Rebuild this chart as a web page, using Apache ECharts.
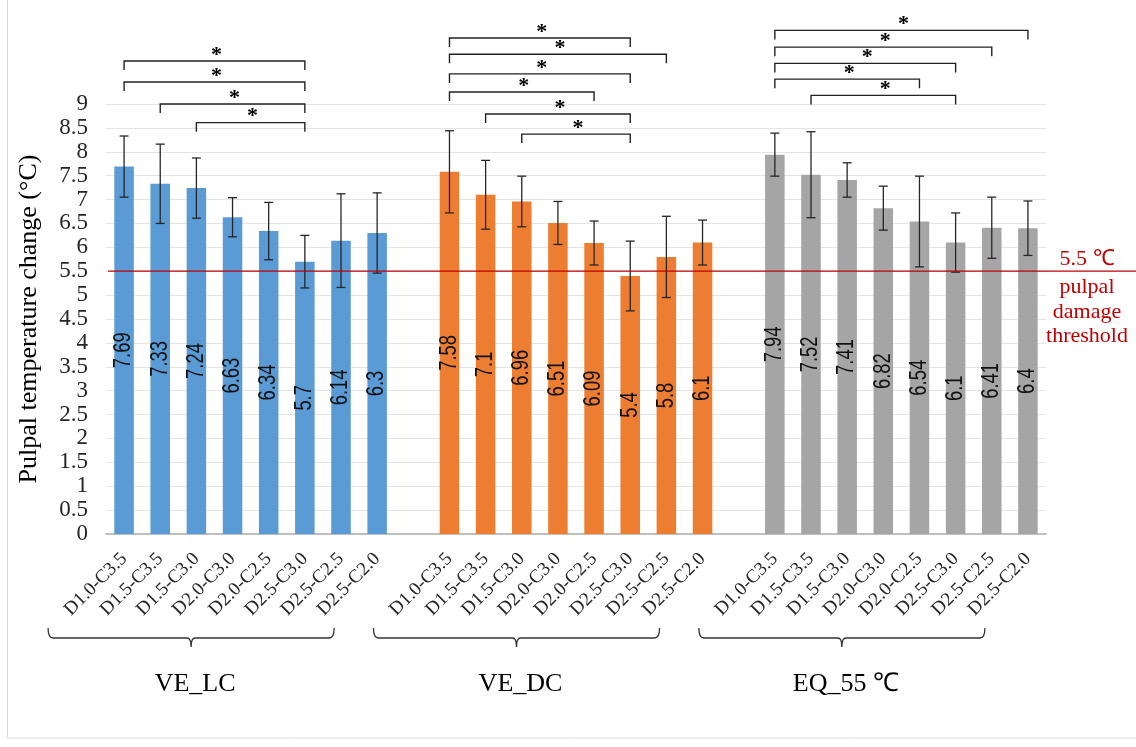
<!DOCTYPE html>
<html>
<head>
<meta charset="utf-8">
<script src="https://cdn.jsdelivr.net/npm/echarts@6/dist/echarts.min.js"></script>
<style>
  html, body { margin: 0; padding: 0; background: #fff; }
  #chart { width: 1136px; height: 747px; }
</style>
</head>
<body>
<div id="chart"></div>
<script>
// Drill / coolant conditions shown in every group
const conditions = ['D1.0-C3.5', 'D1.5-C3.5', 'D1.5-C3.0', 'D2.0-C3.0', 'D2.0-C2.5', 'D2.5-C3.0', 'D2.5-C2.5', 'D2.5-C2.0'];
const groupNames = ['VE_LC', 'VE_DC', 'EQ_55 \u2103'];

// Mean pulpal temperature change (°C) and standard deviation
const veLcMean = [7.69, 7.33, 7.24, 6.63, 6.34, 5.7, 6.14, 6.3];
const veLcSd   = [0.64, 0.83, 0.63, 0.41, 0.60, 0.55, 0.98, 0.84];
const veDcMean = [7.58, 7.1, 6.96, 6.51, 6.09, 5.4, 5.8, 6.1];
const veDcSd   = [0.86, 0.72, 0.53, 0.45, 0.46, 0.73, 0.85, 0.47];
const eqMean   = [7.94, 7.52, 7.41, 6.82, 6.54, 6.1, 6.41, 6.4];
const eqSd     = [0.45, 0.90, 0.36, 0.46, 0.95, 0.62, 0.64, 0.57];

// Significant pairs within each group: [condition a, condition b, bracket height in °C]
const veLcSig = [[0, 5, 9.90], [0, 5, 9.46], [1, 5, 9.00], [2, 5, 8.61]];
const veDcSig = [[0, 5, 10.38], [0, 6, 10.04], [0, 5, 9.63], [0, 4, 9.25], [1, 5, 8.79], [2, 5, 8.37]];
const eqSig   = [[0, 7, 10.54], [0, 6, 10.19], [0, 5, 9.85], [0, 4, 9.52], [1, 5, 9.18]];

// Pulpal damage threshold
const threshold = 5.5;
const thresholdLabel = '5.5 \u2103';
const thresholdNote = ['pulpal', 'damage', 'threshold'];

const groupMeans = [veLcMean, veDcMean, eqMean];
const groupSds = [veLcSd, veDcSd, eqSd];
const groupSig = [veLcSig, veDcSig, eqSig];
const groupColors = ['#5B9BD5', '#ED7D31', '#A5A5A5'];

// Each group takes one slot per condition, with an empty slot between groups
const perGroup = conditions.length + 1;
const slotOf = (g, i) => g * perGroup + i;
const categories = [];
groupNames.forEach((_, g) => {
  if (g > 0) categories.push('');
  conditions.forEach(c => categories.push(c));
});

const serif = '"Liberation Serif", "Times New Roman", serif';
const sans = '"Liberation Sans", Arial, sans-serif';
const ink = '#262626';

const barSeries = groupNames.map((name, g) => {
  const data = categories.map(() => '-');
  groupMeans[g].forEach((v, i) => { data[slotOf(g, i)] = v; });
  return {
    name: name,
    type: 'bar',
    data: data,
    barWidth: '54%',
    barGap: '-100%',
    itemStyle: { color: groupColors[g] },
    z: 2
  };
});

// [slot, mean, mean - sd, mean + sd]
const barStats = [];
groupMeans.forEach((means, g) => {
  means.forEach((m, i) => {
    const sd = groupSds[g][i];
    barStats.push([slotOf(g, i), m, +(m - sd).toFixed(2), +(m + sd).toFixed(2)]);
  });
});

const sigData = [];
groupSig.forEach((list, g) => {
  list.forEach(([a, b, h]) => sigData.push([slotOf(g, a), slotOf(g, b), h]));
});

const braceData = groupNames.map((_, g) => [slotOf(g, 0), slotOf(g, conditions.length - 1), g]);

const chart = echarts.init(document.getElementById('chart'), null, { renderer: 'canvas' });

chart.setOption({
  animation: false,
  backgroundColor: '#fff',
  grid: { left: 106, right: 90, top: 104, bottom: 213, containLabel: false },
  xAxis: {
    type: 'category',
    data: categories,
    boundaryGap: true,
    axisLine: { show: true, lineStyle: { color: '#BFBFBF', width: 2 } },
    axisTick: { show: false },
    axisLabel: {
      interval: 0,
      rotate: 45,
      margin: 22,
      color: ink,
      fontFamily: serif,
      fontSize: 19
    },
    splitLine: { show: false }
  },
  yAxis: {
    type: 'value',
    min: 0,
    max: 9,
    interval: 0.5,
    name: 'Pulpal temperature change (\u00B0C)',
    nameLocation: 'middle',
    nameRotate: 90,
    nameGap: 64,
    nameTextStyle: { color: '#000', fontFamily: serif, fontSize: 26 },
    axisLine: { show: false },
    axisTick: { show: false },
    axisLabel: { color: ink, fontFamily: serif, fontSize: 23, margin: 18 },
    splitLine: { show: true, lineStyle: { color: '#E4E4E4', width: 1 } }
  },
  graphic: [{
    type: 'rect',
    shape: { x: 7.5, y: -5, width: 1140, height: 743 },
    style: { fill: 'none', stroke: '#D9D9D9', lineWidth: 1 },
    silent: true
  }],
  series: barSeries.concat([
    {
      // mean value written up the middle of each bar, plus its SD whisker
      name: 'stats',
      type: 'custom',
      data: barStats,
      encode: { x: 0, y: [1, 2, 3] },
      z: 5,
      renderItem: (params, api) => {
        const slot = api.value(0);
        const base = api.coord([slot, 0]);
        const top = api.coord([slot, api.value(1)]);
        const lo = api.coord([slot, api.value(2)]);
        const hi = api.coord([slot, api.value(3)]);
        const x = base[0], cap = 4.5;
        const st = { stroke: ink, lineWidth: 1.3 };
        return {
          type: 'group',
          children: [
            {
              type: 'text',
              x: x,
              y: (base[1] + top[1]) / 2,
              rotation: Math.PI / 2,
              scaleX: 0.8,
              style: {
                text: String(api.value(1)),
                fill: '#111',
                font: '23px ' + sans,
                textAlign: 'center',
                textVerticalAlign: 'middle'
              }
            },
            { type: 'line', shape: { x1: x, y1: hi[1], x2: x, y2: lo[1] }, style: st },
            { type: 'line', shape: { x1: x - cap, y1: hi[1], x2: x + cap, y2: hi[1] }, style: st },
            { type: 'line', shape: { x1: x - cap, y1: lo[1], x2: x + cap, y2: lo[1] }, style: st }
          ]
        };
      }
    },
    {
      name: 'significance',
      type: 'custom',
      data: sigData,
      encode: { x: [0, 1], y: 2 },
      clip: false,
      z: 6,
      renderItem: (params, api) => {
        const a = api.coord([api.value(0), api.value(2)]);
        const b = api.coord([api.value(1), api.value(2)]);
        const y = a[1], drop = 9;
        return {
          type: 'group',
          children: [
            {
              type: 'polyline',
              shape: { points: [[a[0], y + drop], [a[0], y], [b[0], y], [b[0], y + drop]] },
              style: { stroke: '#222', lineWidth: 1.4, fill: 'none' }
            },
            {
              type: 'text',
              x: (a[0] + b[0]) / 2 + 2,
              y: y + 5,
              style: {
                text: '*',
                fill: '#000',
                font: 'bold 22px ' + serif,
                textAlign: 'center',
                textVerticalAlign: 'bottom'
              }
            }
          ]
        };
      }
    },
    {
      name: 'groups',
      type: 'custom',
      data: braceData,
      encode: { x: [0, 1] },
      clip: false,
      z: 6,
      renderItem: (params, api) => {
        const first = api.coord([api.value(0), 0]);
        const last = api.coord([api.value(1), 0]);
        const l = first[0] - 76, r = last[0] - 43, c = (l + r) / 2;
        const y = first[1] + 104;
        const path = `M${l},${y - 10} Q${l},${y} ${l + 5},${y} L${c - 4},${y} Q${c},${y} ${c},${y + 9}` +
                     ` M${c},${y + 9} Q${c},${y} ${c + 4},${y} L${r - 5},${y} Q${r},${y} ${r},${y - 10}`;
        return {
          type: 'group',
          children: [
            { type: 'path', shape: { pathData: path }, style: { stroke: '#333', lineWidth: 1.3, fill: 'none' } },
            {
              type: 'text',
              x: c + 4,
              y: first[1] + 150,
              style: {
                text: groupNames[api.value(2)],
                fill: '#000',
                font: '26px ' + serif,
                textAlign: 'center',
                textVerticalAlign: 'middle'
              }
            }
          ]
        };
      }
    },
    {
      name: 'threshold',
      type: 'custom',
      data: [[0, threshold]],
      encode: { x: 0, y: 1 },
      clip: false,
      z: 8,
      renderItem: (params, api) => {
        const p = api.coord([0, api.value(1)]);
        const y = p[1];
        const x0 = p[0] - 16;
        const cx = 1087;
        const red = '#C00000';
        const children = [
          { type: 'line', shape: { x1: x0, y1: y, x2: 1136, y2: y }, style: { stroke: red, lineWidth: 1.3 } },
          {
            type: 'text', x: cx, y: y - 1,
            style: { text: thresholdLabel, fill: red, font: '22px ' + serif, textAlign: 'center', textVerticalAlign: 'bottom' }
          }
        ];
        thresholdNote.forEach((t, k) => {
          children.push({
            type: 'text', x: cx, y: y + 16 + k * 24.5,
            style: { text: t, fill: red, font: '22px ' + serif, textAlign: 'center', textVerticalAlign: 'middle' }
          });
        });
        return { type: 'group', children: children };
      }
    }
  ])
});
</script>
</body>
</html>
